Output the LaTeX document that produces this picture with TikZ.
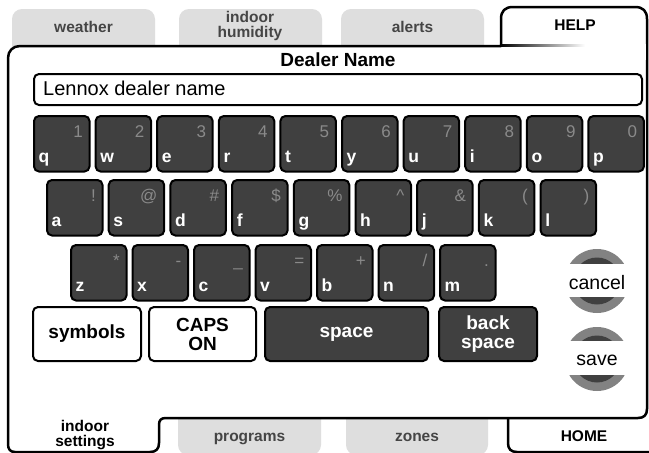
\documentclass[tikz,border=0pt]{standalone}
\usepackage{fontspec}
\setmainfont{Liberation Sans}
\definecolor{keyfill}{HTML}{404040}
\definecolor{symgray}{HTML}{8A8A8A}
\definecolor{tabfill}{HTML}{DEDEDE}
\definecolor{tabtext}{HTML}{454545}
\definecolor{ringgray}{HTML}{828282}
\definecolor{ringdark}{HTML}{404040}
\tikzset{
  keybox/.style={draw=black, line width=2pt, fill=keyfill, rounded corners=5pt,
    minimum width=55.5pt, minimum height=55.5pt, inner sep=0pt, anchor=north west},
  keyletter/.style={text=white, font=\fontsize{17.5}{17.5}\selectfont\bfseries, inner sep=0pt, anchor=base west},
  keysym/.style={text=symgray, font=\fontsize{17}{17}\selectfont, inner sep=0pt, anchor=base east},
  btnwhite/.style={draw=black, line width=2pt, fill=white, rounded corners=5pt, inner sep=0pt,
    align=center, font=\fontsize{19}{19}\selectfont\bfseries},
  btndark/.style={btnwhite, fill=keyfill, text=white},
  tablabel/.style={text=tabtext, font=\fontsize{15.5}{15}\selectfont\bfseries, align=center, inner sep=0pt},
  tabline/.style={tablabel, anchor=base},
  tabactive/.style={tablabel, text=black},
  outline/.style={draw=black, line width=2.5pt, fill=white, line join=round},
  roundbtn/.style={font=\fontsize{19.5}{19.5}\selectfont, inner sep=0pt}
}
\newcommand\kbkey[5]{%
  \node[keybox] (#1) at (#2,#3) {};
  \node[keyletter] (#1l) at (#2+5.5,#3+47) {#4};
  \node[keysym] (#1s) at (#2+50,#3+22) {#5};
}
\begin{document}
\begin{tikzpicture}[x=1pt,y=-1pt]
\fill[white] (0,0) rectangle (649,453);
\useasboundingbox (0,0) rectangle (649,453);
% top gray tabs
\fill[tabfill, rounded corners=10pt] (12,9) rectangle (155,70);
\fill[tabfill, rounded corners=10pt] (179,9) rectangle (322,70);
\fill[tabfill, rounded corners=10pt] (341,9) rectangle (484,70);
% bottom gray tabs
\fill[tabfill, rounded corners=10pt] (178,395) rectangle (321,455);
\fill[tabfill, rounded corners=10pt] (346,395) rectangle (488,455);
% main panel outline (with HELP tab and indoor settings tab)
\path[outline] (501,46) -- (20,46) .. controls (13,46) and (8,51) .. (8,58)
  -- (8,444) .. controls (8,449) and (10,452) .. (15,452)
  -- (150,452) .. controls (156,452) and (159,449) .. (159,443)
  -- (159,425) .. controls (159,420) and (161,418) .. (166,418)
  -- (638,418) .. controls (644,418) and (647,415) .. (647,409)
  -- (647,19) .. controls (647,11) and (643,7) .. (635,7)
  -- (513,7) .. controls (505,7) and (501,11) .. (501,19) -- cycle;
\fill[white] (502.3,44) rectangle (645.7,60);
\shade[left color=black, right color=white] (500,44.3) rectangle (585,46.6);
% HOME tab
\draw[black, line width=2.5pt] (508,418) -- (508,443) .. controls (508,449) and (511,452) .. (517,452) -- (652,452);
% tab labels
\node[tabline] (weather) at (83.5,32.5) {weather};
\node[tablabel] (humidity) at (250,26) {indoor\\humidity};
\node[tabline] (alerts) at (412.5,32.5) {alerts};
\node[tabline, text=black] (help) at (575,30.5) {HELP};
\node[tabactive] (settings) at (85,435) {indoor\\settings};
\node[tabline] (programs) at (249.5,441.5) {programs};
\node[tabline] (zones) at (417,441.5) {zones};
\node[tabline, text=black] (home) at (584,441.5) {HOME};
% title and field
\node[font=\fontsize{19}{19}\selectfont\bfseries, inner sep=0pt] (title) at (338,60) {Dealer Name};
\node[draw=black, line width=2pt, rounded corners=5pt, minimum width=608pt, minimum height=31pt,
  anchor=north west, inner sep=0pt] (field) at (33,73) {};
\node[font=\fontsize{20}{20}\selectfont, anchor=west, inner sep=0pt] (fieldtext) at (43,88.5) {Lennox dealer name};
% row 1
\kbkey{kq}{33}{115}{q}{1}
\kbkey{kw}{94.6}{115}{w}{2}
\kbkey{ke}{156.2}{115}{e}{3}
\kbkey{kr}{217.8}{115}{r}{4}
\kbkey{kt}{279.4}{115}{t}{5}
\kbkey{ky}{341}{115}{y}{6}
\kbkey{ku}{402.6}{115}{u}{7}
\kbkey{ki}{464.2}{115}{i}{8}
\kbkey{ko}{525.8}{115}{o}{9}
\kbkey{kp}{587.4}{115}{p}{0}
% row 2
\kbkey{ka}{46}{179}{a}{!}
\kbkey{ks}{107.7}{179}{s}{@}
\kbkey{kd}{169.4}{179}{d}{\#}
\kbkey{kf}{231.1}{179}{f}{\$}
\kbkey{kg}{292.8}{179}{g}{\%}
\kbkey{kh}{354.5}{179}{h}{\textasciicircum}
\kbkey{kj}{416.2}{179}{j}{\&}
\kbkey{kk}{477.9}{179}{k}{(}
\kbkey{kl}{539.6}{179}{l}{)}
% row 3
\kbkey{kz}{70}{244}{z}{*}
\kbkey{kx}{131.5}{244}{x}{-}
\kbkey{kc}{193}{244}{c}{\_}
\kbkey{kv}{254.5}{244}{v}{=}
\kbkey{kb}{316}{244}{b}{+}
\kbkey{kn}{377.5}{244}{n}{/}
\kbkey{km}{439}{244}{m}{.}
% row 4
\node[btnwhite, minimum width=108pt, minimum height=54pt, anchor=north west] (symbols) at (32,306) {symbols};
\node[btnwhite, minimum width=107pt, minimum height=54pt, anchor=north west] (caps) at (148,306) {CAPS\\ON};
\node[btndark, minimum width=163pt, minimum height=54pt, anchor=north west] (space) at (264,306) {space};
\node[btndark, minimum width=98pt, minimum height=54pt, anchor=north west] (back) at (438,306) {back\\space};
% cancel / save round buttons
\fill[ringgray] (597,281) circle (32pt);
\fill[ringdark] (597,281) circle (23.5pt);
\fill[white] (560,264) rectangle (634,297);
\node[roundbtn] (cancel) at (597,283) {cancel};
\fill[ringgray] (597,359) circle (32pt);
\fill[ringdark] (597,359) circle (23.5pt);
\fill[white] (560,341) rectangle (634,375);
\node[roundbtn] (save) at (597,360) {save};
\end{tikzpicture}
\end{document}
